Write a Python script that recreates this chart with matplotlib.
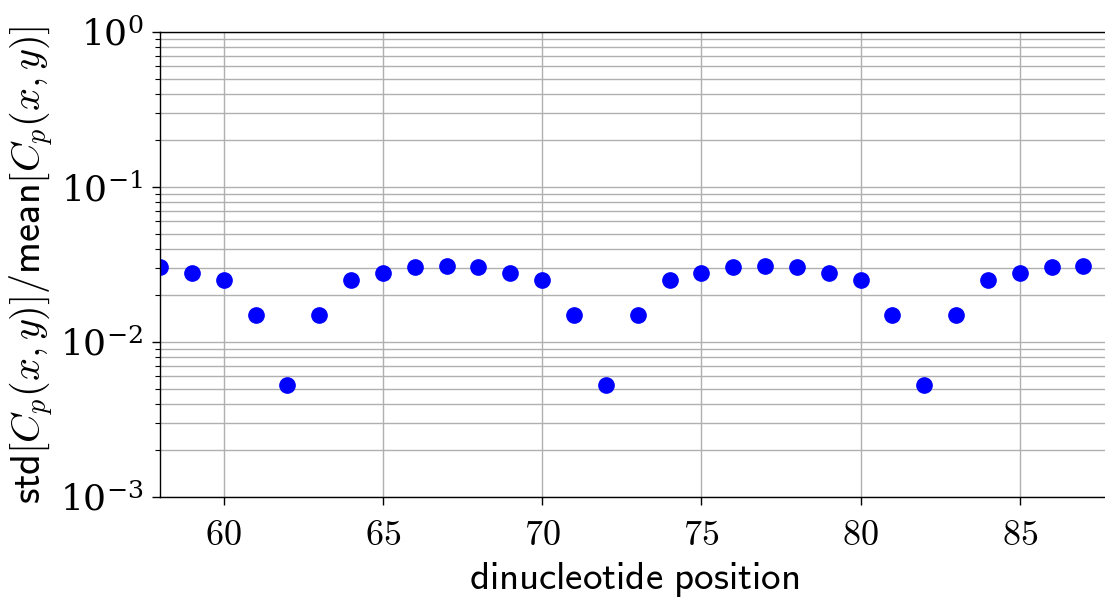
import matplotlib
matplotlib.use("Agg")
import matplotlib.pyplot as plt

plt.rcParams['mathtext.fontset'] = 'cm'
plt.rcParams['font.family'] = 'serif'
plt.rcParams['font.serif'] = ['DejaVu Serif']

# positions along the sequence and the relative spread at each one
positions = list(range(58, 88))
rel_std = [0.0305, 0.028, 0.025, 0.015, 0.0053, 0.015, 0.025, 0.028, 0.0305, 0.031,
           0.0305, 0.028, 0.025, 0.015, 0.0053, 0.015, 0.025, 0.028, 0.0305, 0.031,
           0.0305, 0.028, 0.025, 0.015, 0.0053, 0.015, 0.025, 0.028, 0.0305, 0.031]
x_ticks = [60, 65, 70, 75, 80, 85]

fig = plt.figure(figsize=(11.05, 5.97), dpi=100)
ax = fig.add_axes([160 / 1105, 100 / 597, 1.003 - 160 / 1105, 465 / 597])

ax.plot(positions, rel_std, 'o', color='blue', markersize=11)

ax.set_yscale('log')
ax.set_ylim(1e-3, 1)
ax.set_xlim(58, 87.78)
ax.set_xticks(x_ticks)
ax.set_xticklabels([r'$%d$' % t for t in x_ticks])

ax.grid(True, which='major', color='#b0b0b0', linewidth=1.0)
ax.grid(True, which='minor', axis='y', color='#b0b0b0', linewidth=1.0)

ax.tick_params(axis='both', which='major', labelsize=26, length=6, width=1)
ax.tick_params(axis='x', which='major', pad=9)
ax.tick_params(axis='y', which='major', pad=6)
ax.tick_params(axis='y', which='minor', length=3.5, width=0.8)

ax.set_xlabel(r'$\mathsf{dinucleotide\ position}$', fontsize=28, labelpad=6)
ax.set_ylabel(r'$\mathsf{std}[C_p(x,y)]/\mathsf{mean}[C_p(x,y)]$', fontsize=29, labelpad=3)

for s in ax.spines.values():
    s.set_linewidth(1.0)

fig.savefig('out.png', dpi=100)
